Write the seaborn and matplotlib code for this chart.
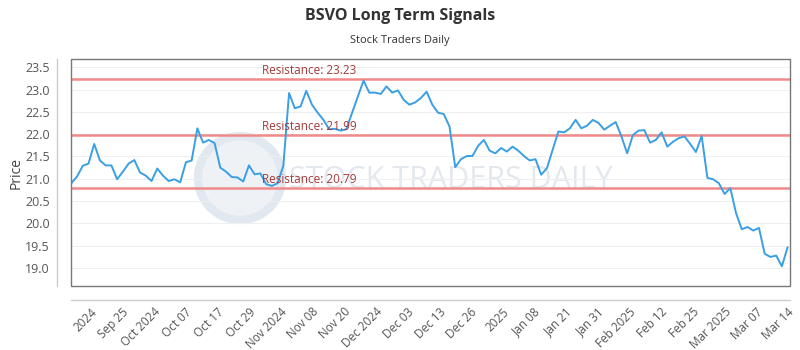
import numpy as np
import pandas as pd
import seaborn as sns
import matplotlib.pyplot as plt
from matplotlib.patches import Rectangle, Ellipse

# Daily closing prices
prices = [
    20.90, 21.05, 21.29, 21.34, 21.78, 21.41, 21.30, 21.30, 20.99, 21.16,
    21.34, 21.42, 21.14, 21.07, 20.95, 21.23, 21.07, 20.95, 20.99, 20.92,
    21.37, 21.41, 22.13, 21.81, 21.87, 21.80, 21.25, 21.16, 21.04, 21.03,
    20.94, 21.30, 21.10, 21.12, 20.88, 20.84, 20.90, 21.29, 22.92, 22.58,
    22.62, 22.97, 22.66, 22.48, 22.32, 22.11, 22.12, 22.08, 22.11, 22.48,
    22.84, 23.20, 22.93, 22.93, 22.90, 23.07, 22.93, 22.98, 22.77, 22.66,
    22.71, 22.81, 22.95, 22.66, 22.48, 22.45, 22.17, 21.26, 21.44, 21.51,
    21.51, 21.74, 21.87, 21.63, 21.57, 21.69, 21.61, 21.72, 21.63, 21.51,
    21.41, 21.44, 21.09, 21.24, 21.65, 22.06, 22.04, 22.13, 22.32, 22.13,
    22.19, 22.32, 22.25, 22.10, 22.19, 22.27, 21.95, 21.57, 21.98, 22.08,
    22.09, 21.81, 21.87, 22.04, 21.72, 21.83, 21.91, 21.95, 21.78, 21.60,
    21.96, 21.02, 20.99, 20.90, 20.66, 20.79, 20.23, 19.87, 19.92, 19.84,
    19.90, 19.32, 19.25, 19.28, 19.04, 19.47,
]

resistance_levels = [23.23, 21.99, 20.79]

tick_labels = [
    "2024", "Sep 25", "Oct 2024", "Oct 07", "Oct 17", "Oct 29", "Nov 2024",
    "Nov 08", "Nov 20", "Dec 2024", "Dec 03", "Dec 13", "Dec 26", "2025",
    "Jan 08", "Jan 21", "Jan 31", "Feb 2025", "Feb 12", "Feb 25", "Mar 2025",
    "Mar 07", "Mar 14",
]

df = pd.DataFrame({"idx": np.arange(len(prices)), "price": prices})

sns.set_theme(style="white")
plt.rcParams["font.family"] = ["Open Sans", "DejaVu Sans"]

fig = plt.figure(figsize=(8, 3.5), dpi=100)
ax = fig.add_axes([0.0884, 0.183, 0.899, 0.648])

# faint watermark (logo ring + text), kept behind the axes
wm = Ellipse((240 / 800, 1 - 178 / 350), 84 / 800, 84 / 350, transform=fig.transFigure,
             facecolor="#eef2f6", edgecolor="#e2e8ef", linewidth=6, zorder=-2)
fig.patches.append(wm)
fig.text(451 / 800, 1 - 180 / 350, "STOCK TRADERS DAILY", fontsize=22, color="#e3e8ee",
         ha="center", va="center", zorder=-1)

ax.set_facecolor("none")

# offset axis lines plus a box around the plot area (before tick setup,
# since moving spines resets the ticks)
for side in ["top", "right"]:
    ax.spines[side].set_visible(False)
for side in ["left", "bottom"]:
    ax.spines[side].set_position(("outward", 10))
    ax.spines[side].set_color("#cccccc")
    ax.spines[side].set_linewidth(1)
ax.add_patch(Rectangle((0, 0), 1, 1, transform=ax.transAxes, fill=False,
                       edgecolor="#777777", lw=1, zorder=5, clip_on=False))

# grid lines
for y in np.arange(19.0, 23.51, 0.5):
    ax.axhline(y, color="#efefef", lw=0.8, zorder=0)

sns.lineplot(data=df, x="idx", y="price", ax=ax, color="#3a9fe3", lw=1.4, zorder=3)

for lvl in resistance_levels:
    ax.axhline(lvl, color="#ee8a8a", lw=1.8, zorder=2)
    ax.text(33.2, lvl + 0.04, f"Resistance: {lvl:.2f}", color="#a33a3a",
            fontsize=8.5, ha="left", va="bottom", zorder=4)

ax.set_xlim(-0.1, 125.4)
ax.set_ylim(18.6, 23.68)
ax.set_yticks(np.arange(19.0, 23.51, 0.5))
ax.set_yticklabels([f"{v:.1f}" for v in np.arange(19.0, 23.51, 0.5)])

ticks = np.linspace(3.3, 125, len(tick_labels))
ax.set_xticks(ticks)
ax.set_xticklabels(tick_labels)

ax.tick_params(axis="both", length=0, labelsize=8.5, labelcolor="#555555")
ax.tick_params(axis="y", pad=5, labelsize=9)
ax.tick_params(axis="x", pad=4)
plt.setp(ax.get_xticklabels(), rotation=45, ha="right", rotation_mode="anchor")

ax.set_xlabel("")
ax.set_ylabel("Price", fontsize=10, color="#444444", labelpad=1)

fig.text(0.5, 0.955, "BSVO Long Term Signals", ha="center", va="center",
         fontsize=11.5, fontweight="bold", color="#333333")
fig.text(0.5, 0.885, "Stock Traders Daily", ha="center", va="center",
         fontsize=8, color="#333333")

fig.savefig("out.png", dpi=100)
